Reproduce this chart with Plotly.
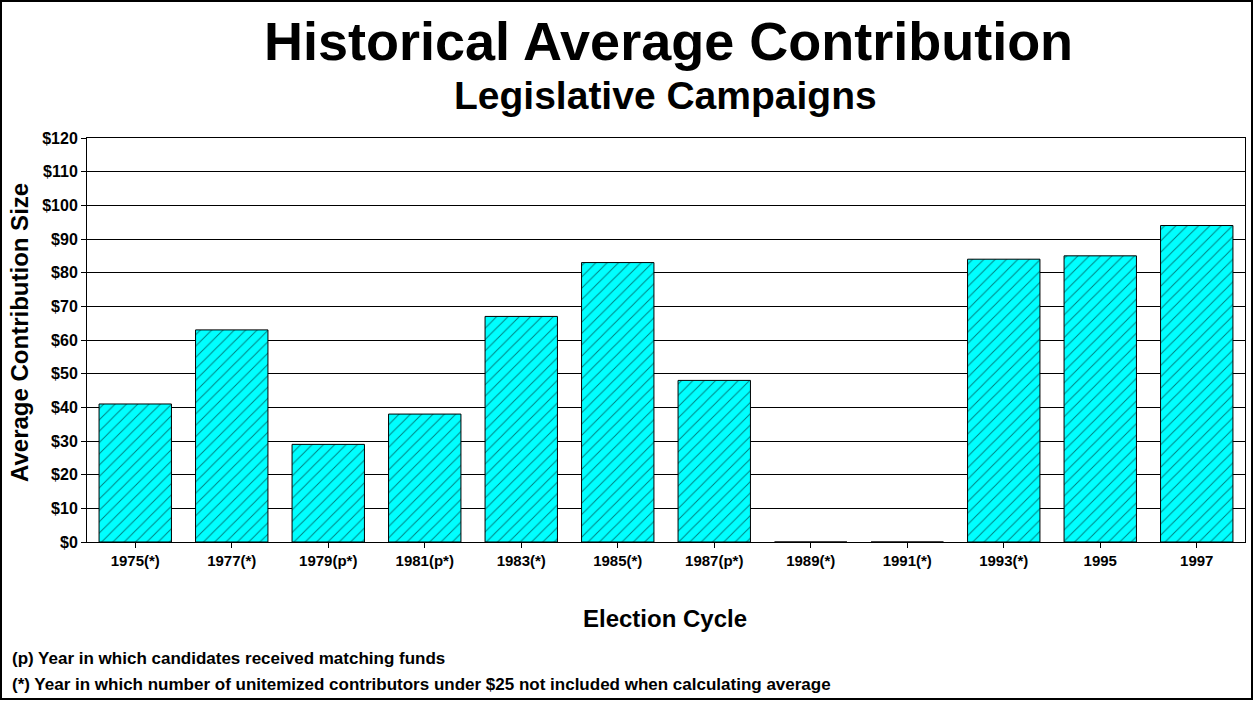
import plotly.graph_objects as go

# data
cycles = ["1975(*)", "1977(*)", "1979(p*)", "1981(p*)", "1983(*)", "1985(*)",
          "1987(p*)", "1989(*)", "1991(*)", "1993(*)", "1995", "1997"]
avg_contribution = [41, 63, 29, 38, 67, 83, 48, 0, 0, 84, 85, 94]
y_ticks = list(range(0, 130, 10))
y_tick_text = ["$%d" % v for v in y_ticks]

W, H = 1254, 701
L, R, T, B = 87, 9, 138, 159
font = "Liberation Sans, Arial, sans-serif"
narrow = "Liberation Sans Narrow, Arial Narrow, Liberation Sans, sans-serif"


def px_x(p):
    return (p - L) / (W - L - R)


def px_y(p):
    return (H - B - p) / (H - T - B)


fig = go.Figure()
fig.add_trace(go.Bar(
    x=cycles,
    y=avg_contribution,
    marker=dict(
        color="#00FFFF",
        line=dict(color="black", width=1),
        pattern=dict(shape="/", fgcolor="black", bgcolor="#00FFFF", size=8, solidity=0.12),
    ),
))

fig.update_layout(
    width=W, height=H,
    margin=dict(l=L, r=R, t=T, b=B),
    paper_bgcolor="white",
    plot_bgcolor="white",
    bargap=0.25,
    showlegend=False,
    font=dict(family=font, color="black"),
)
fig.update_xaxes(
    showline=True, linecolor="black", linewidth=1, mirror=True,
    ticks="outside", ticklen=5, tickcolor="black",
    tickfont=dict(size=15, family=narrow, weight="bold"),
    showgrid=False,
)
fig.update_yaxes(
    range=[0, 120], tickvals=y_ticks, ticktext=y_tick_text,
    showline=True, linecolor="black", linewidth=1, mirror=True,
    ticks="outside", ticklen=5, tickcolor="black",
    showgrid=True, gridcolor="black", gridwidth=1,
    tickfont=dict(size=16, family=narrow, weight="bold"),
    zeroline=False,
)

texts = [
    ("Historical Average Contribution", 668, 41, 54, "center"),
    ("Legislative Campaigns", 665, 96, 39, "center"),
    ("Election Cycle", 665, 618, 24, "center"),
]
for t, x, y, s, a in texts:
    fig.add_annotation(text="<b>%s</b>" % t, x=px_x(x), y=px_y(y), xref="paper", yref="paper",
                       showarrow=False, font=dict(size=s, family=font), xanchor=a, yanchor="middle")

fig.add_annotation(text="<b>Average Contribution Size</b>", x=px_x(19), y=px_y(333),
                   xref="paper", yref="paper", showarrow=False, textangle=-90,
                   font=dict(size=24, family=font), xanchor="center", yanchor="middle")

notes = [
    ("(p) Year in which candidates received matching funds", 658),
    ("(*) Year in which number of unitemized contributors under $25 not included when calculating average", 684),
]
for t, y in notes:
    fig.add_annotation(text="<b>%s</b>" % t, x=px_x(10), y=px_y(y), xref="paper", yref="paper",
                       showarrow=False, font=dict(size=17, family=font), xanchor="left", yanchor="middle")

# outer frame
fig.add_shape(type="rect", xref="paper", yref="paper",
              x0=px_x(1), x1=px_x(1252), y0=px_y(699), y1=px_y(1),
              line=dict(color="black", width=2))

fig.write_html("out.html", config={"displayModeBar": False},
               post_script="document.body.style.margin='0';")
